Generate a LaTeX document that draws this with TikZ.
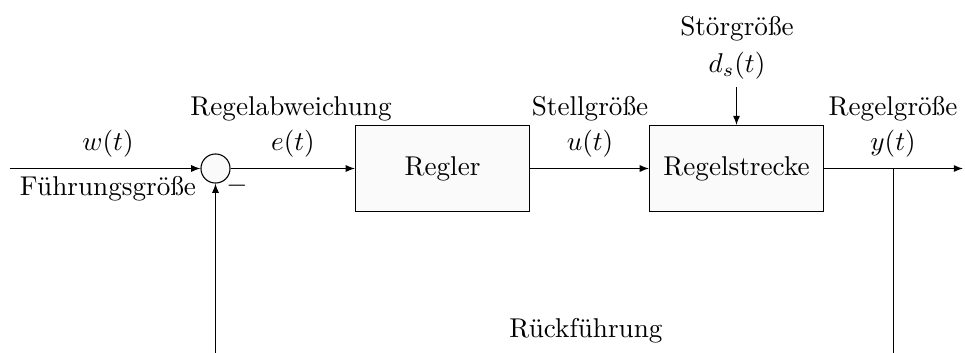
\documentclass[tikz,border=0pt]{standalone}
\usetikzlibrary{arrows.meta}
\begin{document}
\begin{tikzpicture}[x=0.3679pt,y=-0.3679pt,
    block/.style={draw,fill=black!2,minimum width=64pt,minimum height=31.6pt,inner sep=0pt},
    sumnode/.style={draw,circle,fill=black!2,minimum size=10.7pt,inner sep=0pt},
    sig/.style={-{Latex[length=3.4pt,width=2.6pt]}},
    lbl/.style={anchor=base,inner sep=0pt}]
  \useasboundingbox (0,0) rectangle (965,352);
  \clip (0,0) rectangle (965,352);

  % blocks of the loop
  \node[sumnode] (sum) at (215.5,168.5) {};
  \node[block] (regler) at (442.5,168.5) {Regler};
  \node[block] (strecke) at (736.5,168.5) {Regelstrecke};

  % free ends
  \coordinate (in) at (10,168.5);
  \coordinate (out) at (963,168.5);
  \coordinate (branch) at (893.5,168.5);
  \coordinate (dist) at (736.5,87);
  \coordinate (fbR) at (893.5,360);
  \coordinate (fbL) at (215.5,360);

  % signal flow
  \draw[sig] (in) -- (sum);
  \draw[sig] (sum) -- (regler);
  \draw[sig] (regler) -- (strecke);
  \draw[sig] (strecke) -- (out);
  \draw[sig] (dist) -- (strecke);
  \draw (branch) -- (fbR);
  \draw[sig] (fbL) -- (sum);

  % labels
  \node[lbl] (lw) at (108,150) {$w(t)$};
  \node[lbl] (lfg) at (108,195) {Führungsgröße};
  \node[lbl] (lminus) at (237,192) {$-$};
  \node[lbl] (lra) at (291,115) {Regelabweichung};
  \node[lbl] (le) at (293,150) {$e(t)$};
  \node[lbl] (lsg) at (590,115) {Stellgröße};
  \node[lbl] (lu) at (590,150) {$u(t)$};
  \node[lbl] (lstg) at (737,35) {Störgröße};
  \node[lbl] (ld) at (737,72) {$d_s(t)$};
  \node[lbl] (lrg) at (893,115) {Regelgröße};
  \node[lbl] (ly) at (893,150) {$y(t)$};
  \node[lbl] (lrf) at (586,337) {Rückführung};
\end{tikzpicture}
\end{document}
